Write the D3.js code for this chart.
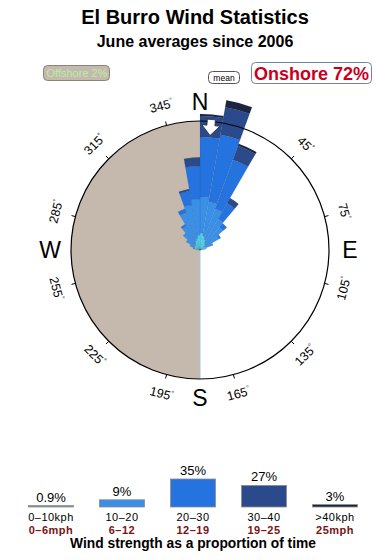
<!DOCTYPE html>
<head>
  <meta charset="utf-8">
  <script src="https://d3js.org/d3.v7.min.js"></script>
  <style>
    body { margin: 0; background: #fff; }
    svg { width: 390px; height: 560px; display: block; }
    text { font-family: "Liberation Sans", Arial, sans-serif; }
  </style>
</head>

<body>
  <svg></svg>

  <script>
    const width = 390;
    const height = 560;

    // speed bins (kph / mph) and their share of time
    const bins = ['0-10', '10-20', '20-30', '30-40', '40+'];
    const kphLabels = ['0\u201310kph', '10\u201320', '20\u201330', '30\u201340', '>40kph'];
    const mphLabels = ['0\u20136mph', '6\u201312', '12\u201319', '19\u201325', '25mph'];
    const binShare = [0.9, 9, 35, 27, 3];
    const shareLabels = ['0.9%', '9%', '35%', '27%', '3%'];
    const colors = ['#4fd6ec', '#3a90e6', '#2573de', '#2b4a8b', '#1c2440'];

    // 36 direction sectors of 10 degrees, starting at N and going clockwise
    // % of time per sector for each speed bin
    const speed0_10  = [0.28, 0.19, 0.12, 0.06, 0.04, 0.02, 0.04, 0.03, 0.02, 0, 0, 0, 0, 0, 0, 0, 0, 0,
                        0, 0, 0, 0, 0, 0, 0, 0, 0, 0.02, 0.03, 0.04, 0.04, 0.04, 0.06, 0.10, 0.14, 0.22];
    const speed10_20 = [2.46, 2.15, 1.77, 1.20, 0.84, 0.45, 0.15, 0.01, 0, 0, 0, 0, 0, 0, 0, 0, 0, 0,
                        0, 0, 0, 0, 0, 0, 0, 0, 0, 0, 0.02, 0.07, 0.21, 0.44, 0.70, 1.46, 1.93, 2.32];
    const speed20_30 = [9.73, 11.02, 7.11, 1.58, 0.32, 0.09, 0, 0, 0, 0, 0, 0, 0, 0, 0, 0, 0, 0,
                        0, 0, 0, 0, 0, 0, 0, 0, 0, 0, 0, 0, 0, 0, 0.11, 0.33, 1.45, 4.35];
    const speed30_40 = [5.07, 7.16, 3.03, 0.67, 0, 0, 0, 0, 0, 0, 0, 0, 0, 0, 0, 0, 0, 0,
                        0, 0, 0, 0, 0, 0, 0, 0, 0, 0, 0, 0, 0, 0, 0, 0, 0.23, 1.38];
    const speed40    = [0.52, 2.03, 0.44, 0, 0, 0, 0, 0, 0, 0, 0, 0, 0, 0, 0, 0, 0, 0,
                        0, 0, 0, 0, 0, 0, 0, 0, 0, 0, 0, 0, 0, 0, 0, 0, 0, 0.09];

    const degreeTicks = [45, 75, 105, 135, 165, 195, 225, 255, 285, 315, 345];
    const compass = [['N', 0], ['E', 90], ['S', 180], ['W', 270]];
    const meanDirection = 5;

    const svg = d3.select('svg');
    const cx = 200, cy = 250, R = 129;
    const rad = a => a * Math.PI / 180;

    /*****************************************************
    ** titles and badges
    ******************************************************/
    svg.append('text').attr('x', 195).attr('y', 24).attr('text-anchor', 'middle')
      .attr('font-size', 20).attr('font-weight', 'bold').text('El Burro Wind Statistics');
    svg.append('text').attr('x', 195).attr('y', 47).attr('text-anchor', 'middle')
      .attr('font-size', 16).attr('font-weight', 'bold').text('June averages since 2006');

    svg.append('rect').attr('x', 43.5).attr('y', 65.5).attr('width', 66).attr('height', 15).attr('rx', 4)
      .attr('fill', '#c5b9ad').attr('stroke', '#8c837a');
    svg.append('text').attr('x', 77).attr('y', 77).attr('text-anchor', 'middle')
      .attr('font-size', 11).attr('fill', '#b4f0a4').text('Offshore 2%');

    svg.append('rect').attr('x', 208.5).attr('y', 71.5).attr('width', 31).attr('height', 12).attr('rx', 4)
      .attr('fill', '#fff').attr('stroke', '#555');
    svg.append('text').attr('x', 224).attr('y', 81).attr('text-anchor', 'middle')
      .attr('font-size', 8.5).text('mean');

    svg.append('rect').attr('x', 251.5).attr('y', 62.5).attr('width', 120).attr('height', 21).attr('rx', 4)
      .attr('fill', '#fff').attr('stroke', '#6f82a8');
    svg.append('text').attr('x', 311.5).attr('y', 79.5).attr('text-anchor', 'middle')
      .attr('font-size', 18).attr('font-weight', 'bold').attr('fill', '#c8001e').text('Onshore 72%');

    /*****************************************************
    ** wind rose
    ******************************************************/
    const rose = svg.append('g').attr('transform', `translate(${cx},${cy})`);

    // offshore half (land side)
    rose.append('path')
      .attr('d', d3.arc()({ innerRadius: 0, outerRadius: R, startAngle: Math.PI, endAngle: 2 * Math.PI }))
      .attr('fill', '#c5b9ad');
    rose.append('line').attr('x1', 0).attr('y1', 0).attr('x2', 0).attr('y2', R)
      .attr('stroke', '#9cc4e2').attr('stroke-width', 1);

    const rows = speed0_10.map((v, i) => ({
      '0-10': v, '10-20': speed10_20[i], '20-30': speed20_30[i], '30-40': speed30_40[i], '40+': speed40[i]
    }));
    const stacked = d3.stack().keys(bins)(rows);

    const r = d3.scaleSqrt().domain([0, 16.25]).range([0, R]);
    const sectorAngle = d3.scaleLinear().domain([0, 36]).range([0, 2 * Math.PI]);
    const arc = d3.arc()
      .innerRadius(d => r(d[0]))
      .outerRadius(d => r(d[1]))
      .startAngle(d => sectorAngle(d.i))
      .endAngle(d => sectorAngle(d.i + 1));

    rose.selectAll('g.layer')
      .data(stacked)
      .enter().append('g')
      .attr('class', 'layer')
      .attr('fill', (d, i) => colors[i])
      .selectAll('path')
      .data(layer => layer.map((d, i) => Object.assign(d, { i })).filter(d => d[1] > d[0]))
      .enter().append('path')
      .attr('d', arc)
      .attr('stroke', 'rgba(20,40,90,0.18)')
      .attr('stroke-width', 0.5);

    // outer circle
    rose.append('circle').attr('r', R).attr('fill', 'none').attr('stroke', '#000').attr('stroke-width', 1.2);

    // degree ticks and labels
    rose.selectAll('line.tick')
      .data(degreeTicks)
      .enter().append('line')
      .attr('class', 'tick')
      .attr('x1', d => R * Math.sin(rad(d)))
      .attr('y1', d => -R * Math.cos(rad(d)))
      .attr('x2', d => (R + 4) * Math.sin(rad(d)))
      .attr('y2', d => -(R + 4) * Math.cos(rad(d)))
      .attr('stroke', '#000');

    const degLabels = rose.selectAll('text.deg')
      .data(degreeTicks)
      .enter().append('text')
      .attr('class', 'deg')
      .attr('font-size', 12.5)
      .attr('text-anchor', 'middle')
      .attr('dominant-baseline', 'central')
      .attr('transform', d => {
        let rot = d;
        if (d > 90 && d < 270) rot = d - 180;
        else if (d >= 270) rot = d - 360;
        const x = 149 * Math.sin(rad(d)), y = -149 * Math.cos(rad(d));
        return `translate(${x},${y})rotate(${rot})`;
      });
    degLabels.append('tspan').text(d => d);
    degLabels.append('tspan').attr('font-size', 7).attr('dy', -4).text('\u00b0');

    rose.selectAll('text.compass')
      .data(compass)
      .enter().append('text')
      .attr('class', 'compass')
      .attr('font-size', 23)
      .attr('text-anchor', 'middle')
      .attr('x', d => 150 * Math.sin(rad(d[1])))
      .attr('y', d => -148 * Math.cos(rad(d[1])) + 8)
      .text(d => d[0]);

    // mean direction arrow (pointing inward)
    rose.append('path')
      .attr('d', 'M-4,-131 L4,-131 L4,-125 L9,-125 L0,-115 L-9,-125 L-4,-125 Z')
      .attr('transform', `rotate(${meanDirection})`)
      .attr('fill', '#fff')
      .attr('stroke', '#222')
      .attr('stroke-width', 0.7);

    /*****************************************************
    ** speed legend
    ******************************************************/
    const lx = d3.scalePoint().domain(bins).range([51, 335]);
    const ly = d3.scaleLinear().domain([0, 35]).range([507, 479]);
    const barW = 45;

    const legend = svg.append('g');
    const item = legend.selectAll('g.item')
      .data(bins)
      .enter().append('g')
      .attr('class', 'item');

    item.append('rect')
      .attr('x', d => lx(d) - barW / 2)
      .attr('y', (d, i) => Math.min(ly(binShare[i]), 505.5))
      .attr('width', barW)
      .attr('height', (d, i) => Math.max(ly(0) - ly(binShare[i]), 1.5))
      .attr('fill', (d, i) => i === 0 ? '#5fa39c' : colors[i])
      .attr('stroke', '#8d8d8d')
      .attr('stroke-width', 0.8);

    item.append('text')
      .attr('x', d => lx(d))
      .attr('y', (d, i) => Math.min(ly(binShare[i]), 505.5) - 4)
      .attr('text-anchor', 'middle')
      .attr('font-size', 13)
      .text((d, i) => shareLabels[i]);

    item.append('text')
      .attr('x', d => lx(d))
      .attr('y', 521)
      .attr('text-anchor', 'middle')
      .attr('font-size', 11)
      .attr('letter-spacing', 0.5)
      .text((d, i) => kphLabels[i]);

    item.append('text')
      .attr('x', d => lx(d))
      .attr('y', 533.5)
      .attr('text-anchor', 'middle')
      .attr('font-size', 11)
      .attr('letter-spacing', 0.5)
      .attr('font-weight', 'bold')
      .attr('fill', '#7a1212')
      .text((d, i) => mphLabels[i]);

    svg.append('text').attr('x', 193).attr('y', 548).attr('text-anchor', 'middle')
      .attr('font-size', 13.8).attr('font-weight', 'bold').text('Wind strength as a proportion of time');
  </script>
</body>
